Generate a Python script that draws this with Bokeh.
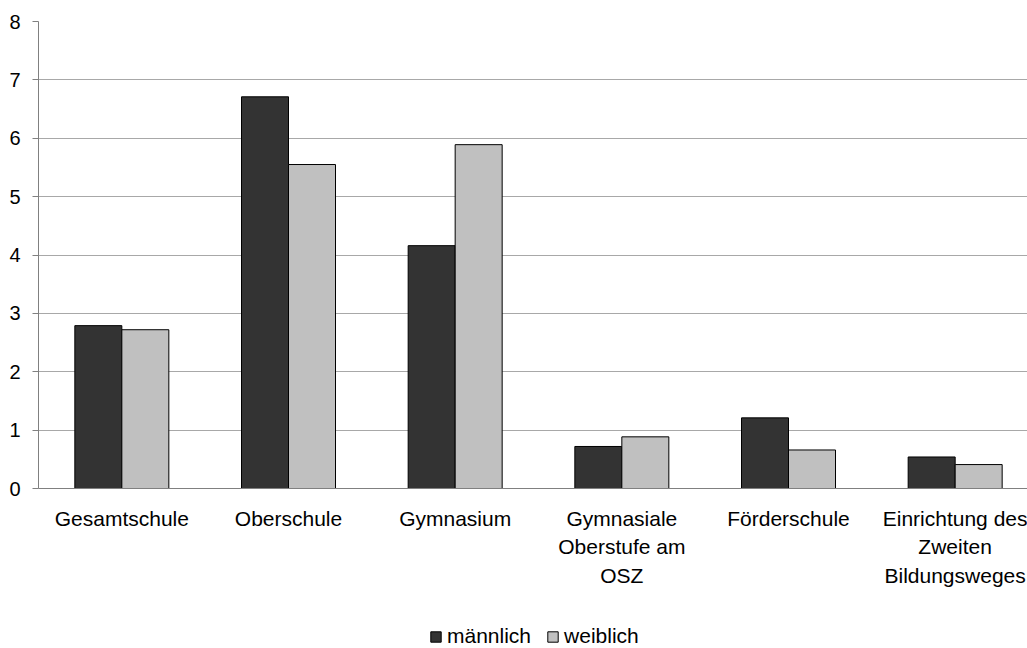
from bokeh.plotting import figure
from bokeh.layouts import column
from bokeh.models import Range1d, FixedTicker, ColumnDataSource, Legend, LegendItem
from bokeh.embed import file_html
from bokeh.resources import INLINE

categories = ["Gesamtschule", "Oberschule", "Gymnasium",
              "Gymnasiale\nOberstufe am\nOSZ", "Förderschule",
              "Einrichtung des\nZweiten\nBildungsweges"]
series_names = ["männlich", "weiblich"]
maennlich = [2.79, 6.71, 4.16, 0.72, 1.21, 0.54]
weiblich = [2.72, 5.55, 5.89, 0.885, 0.66, 0.41]
y_ticks = [0, 1, 2, 3, 4, 5, 6, 7, 8]

FONT = "Liberation Sans"
DARK = "#333333"
LIGHT = "#c0c0c0"
centers = [i + 0.5 for i in range(len(categories))]
bw = 0.282

p = figure(width=1027, height=608, output_backend="svg", toolbar_location=None,
           x_range=Range1d(0, 5.934), y_range=Range1d(0, 8),
           min_border_left=38, min_border_right=0, min_border_top=21,
           min_border_bottom=120)
p.outline_line_color = None
p.background_fill_color = "white"
p.border_fill_color = "white"

src_m = ColumnDataSource(dict(x=[c - bw / 2 for c in centers], top=maennlich))
src_w = ColumnDataSource(dict(x=[c + bw / 2 for c in centers], top=weiblich))
p.vbar(x="x", top="top", width=bw, source=src_m, fill_color=DARK,
       line_color="#000000", line_width=1)
p.vbar(x="x", top="top", width=bw, source=src_w, fill_color=LIGHT,
       line_color="#000000", line_width=1)

# y axis
p.yaxis.ticker = FixedTicker(ticks=y_ticks)
p.yaxis.minor_tick_line_color = None
p.yaxis.major_tick_out = 6
p.yaxis.major_tick_in = 0
p.yaxis.major_label_standoff = 12
p.yaxis.major_label_text_font = FONT
p.yaxis.major_label_text_font_size = "20px"
p.yaxis.major_label_text_color = "#000000"
p.yaxis.axis_line_color = "#808080"
p.yaxis.major_tick_line_color = "#808080"

# x axis
p.xaxis.ticker = FixedTicker(ticks=centers)
p.xaxis.major_label_overrides = {c: lab for c, lab in zip(centers, categories)}
p.xaxis.minor_tick_line_color = None
p.xaxis.major_tick_line_color = None
p.xaxis.major_tick_out = 0
p.xaxis.major_tick_in = 0
p.xaxis.major_label_standoff = 18
p.xaxis.major_label_text_font = FONT
p.xaxis.major_label_text_font_size = "21px"
p.xaxis.major_label_text_color = "#000000"
p.xaxis.major_label_text_line_height = 1.24
p.xaxis.axis_line_color = "#808080"

p.xgrid.grid_line_color = None
p.ygrid.ticker = FixedTicker(ticks=y_ticks)
p.ygrid.grid_line_color = "#a8a8a8"

# legend strip below the chart (its bars lie outside its visible y range,
# they only provide the legend swatches)
lg = figure(width=1027, height=40, output_backend="svg", toolbar_location=None,
            x_range=Range1d(0, 5.934), y_range=Range1d(100, 101),
            min_border_left=0, min_border_right=0, min_border_top=0,
            min_border_bottom=0, x_axis_type=None, y_axis_type=None)
lg.outline_line_color = None
lg.xgrid.grid_line_color = None
lg.ygrid.grid_line_color = None
lr_m = lg.vbar(x="x", top="top", width=bw, source=src_m, fill_color=DARK,
               line_color="#000000", line_width=1)
lr_w = lg.vbar(x="x", top="top", width=bw, source=src_w, fill_color=LIGHT,
               line_color="#000000", line_width=1)

legend = Legend(items=[LegendItem(label=series_names[0], renderers=[lr_m]),
                       LegendItem(label=series_names[1], renderers=[lr_w])],
                orientation="horizontal", location=(391, 0),
                glyph_width=13, glyph_height=13, label_standoff=5, spacing=15,
                padding=0, margin=0, border_line_color=None,
                background_fill_alpha=0, label_text_font=FONT,
                label_text_font_size="21px", label_text_color="#000000")
lg.add_layout(legend, "center")

layout = column(p, lg, spacing=0)
open("out.html", "w").write(file_html(layout, INLINE))
